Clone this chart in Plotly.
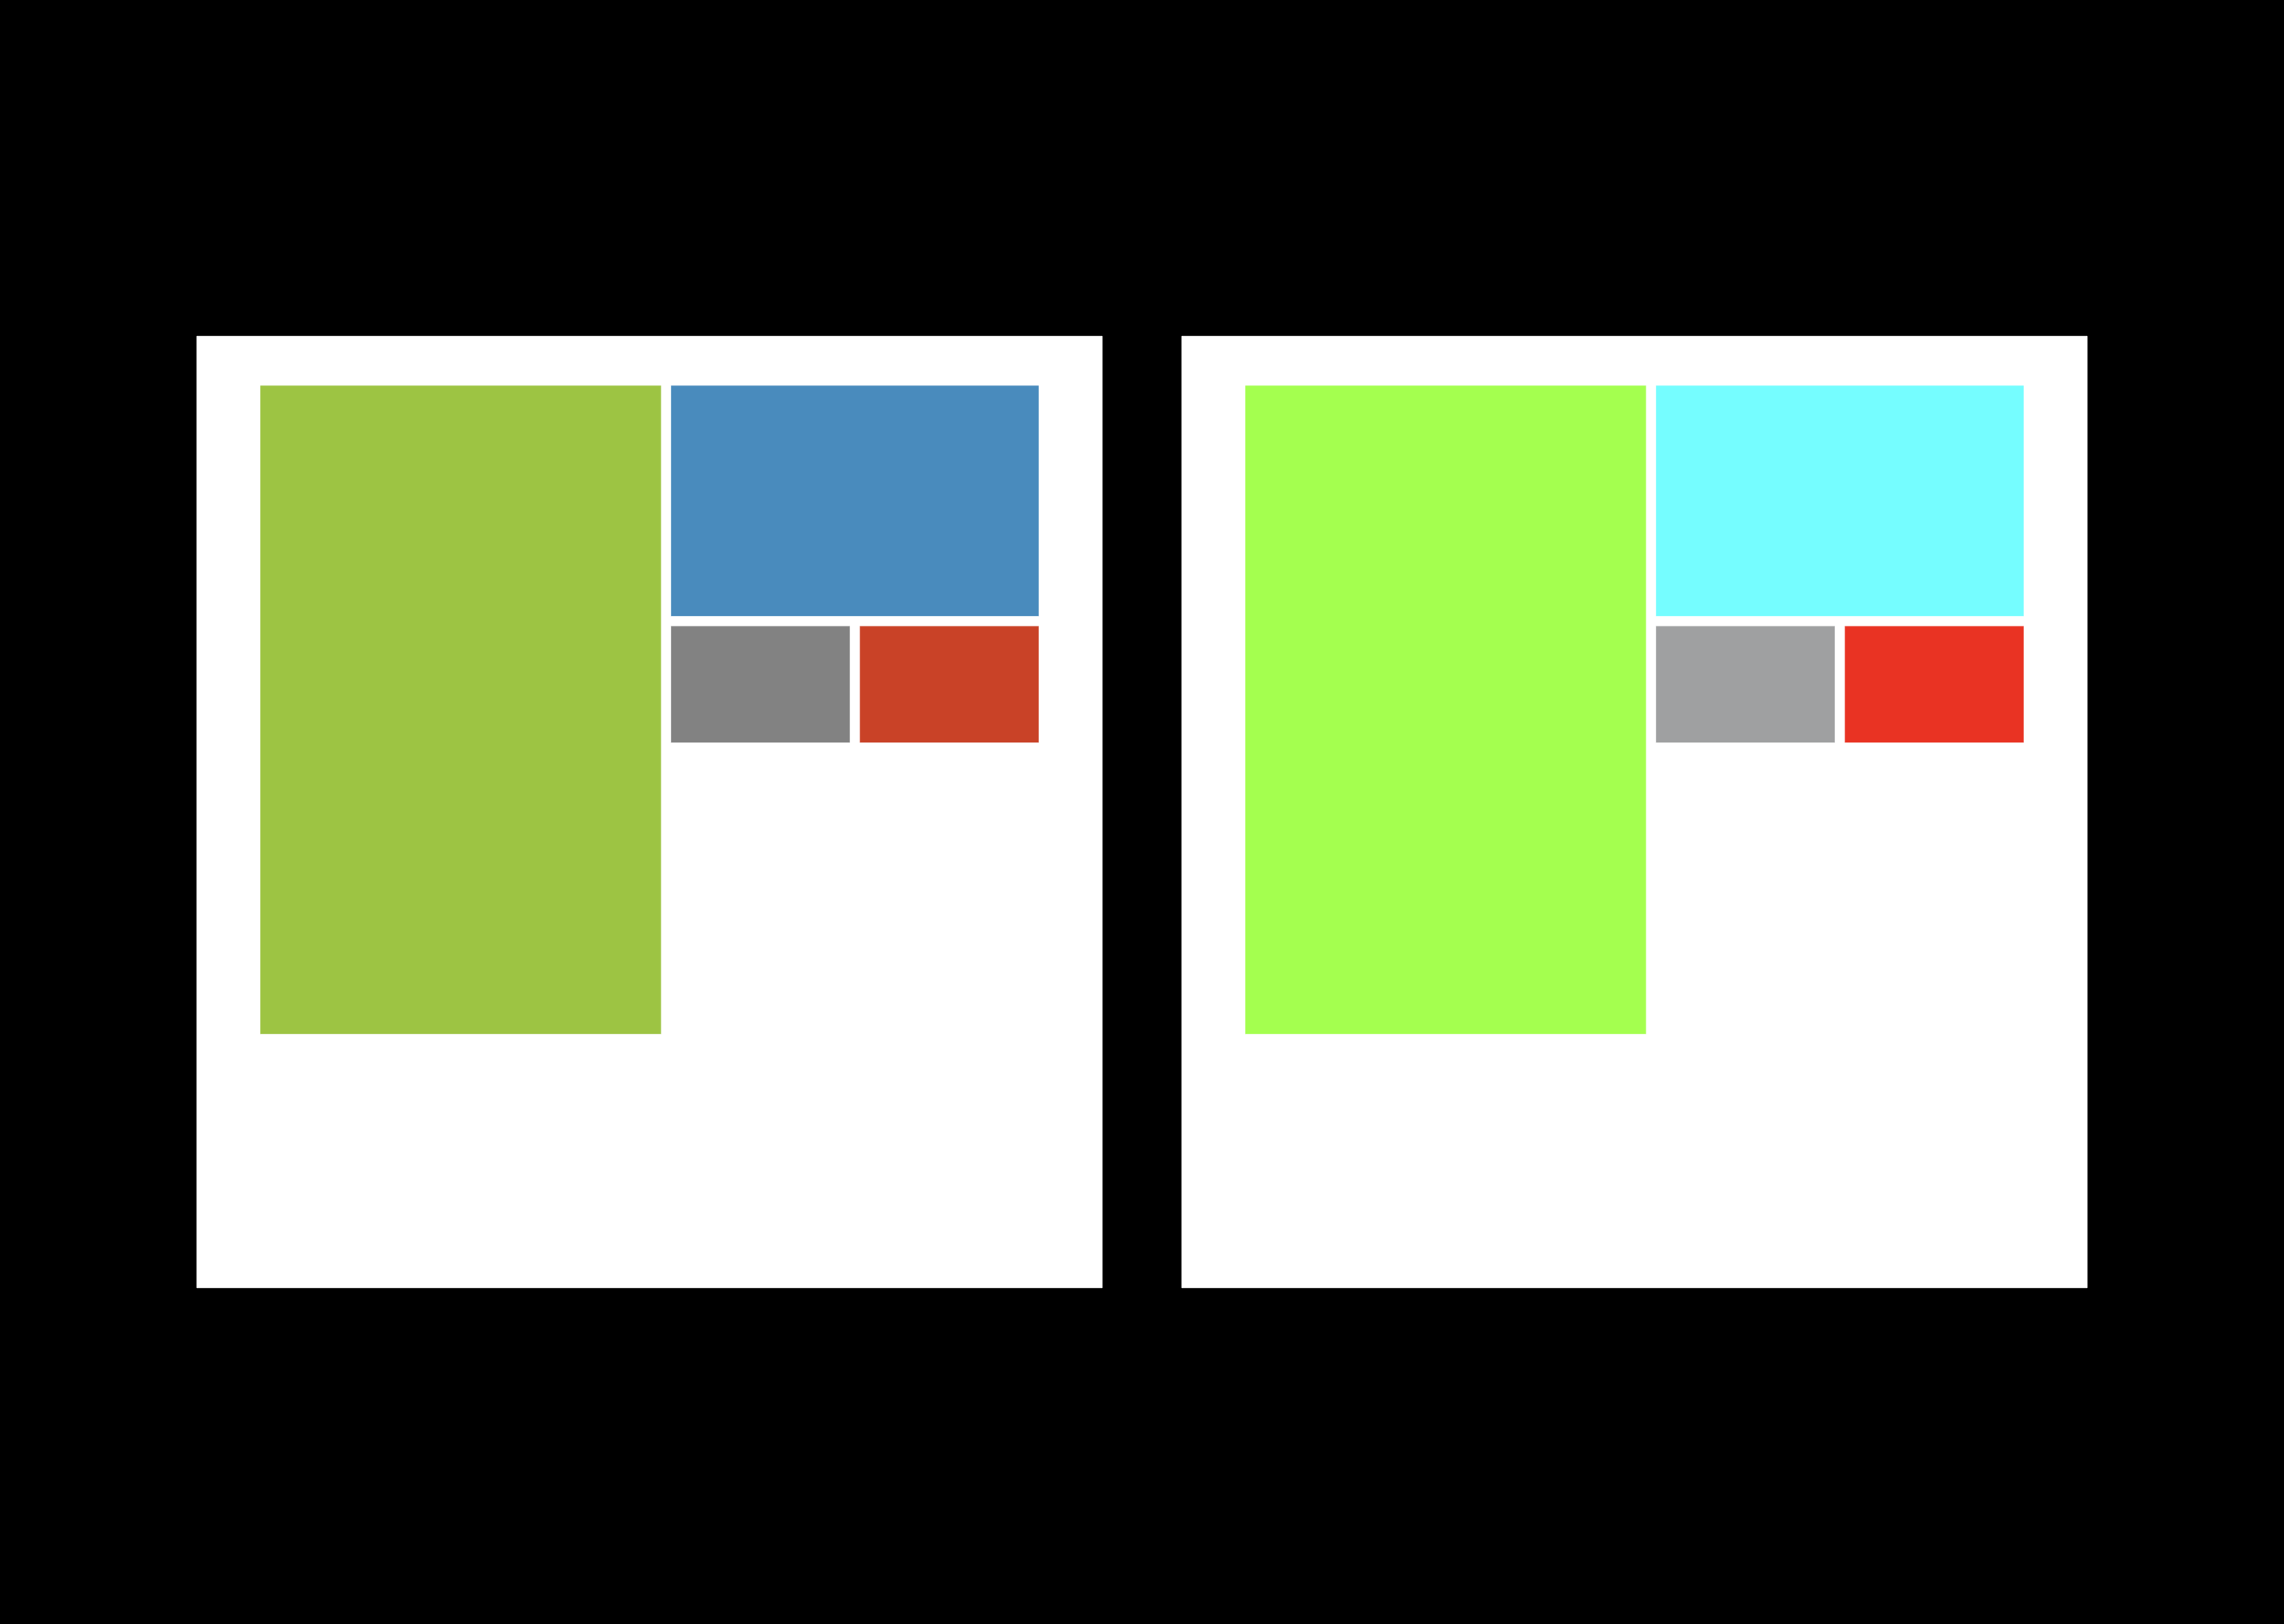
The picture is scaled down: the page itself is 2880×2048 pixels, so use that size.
import plotly.graph_objects as go

# Hierarchy (values are relative tile areas)
labels = ["Total", "Group", "Green", "Blue", "Gray", "Red"]
parents = ["", "Total", "Group", "Group", "Group", "Group"]
values = [1266, 1000, 521, 175, 46, 46]

colors_muted = ["#FFFFFF", "#FFFFFF", "#9DC443", "#498BBD", "#828282", "#C94227"]
colors_bright = ["#FFFFFF", "#FFFFFF", "#A4FF4F", "#75FDFF", "#9FA0A1", "#E93323"]

W, H = 2880, 2048
ML, MR, MT, MB = 248, 248, 424, 424
plot_w = W - ML - MR
panel_w = 1142
gap = plot_w - 2 * panel_w

hidden_font = dict(color="rgba(0,0,0,0)", size=1)

fig = go.Figure()
for i, cols in enumerate([colors_muted, colors_bright]):
    x0 = i * (panel_w + gap) / plot_w
    x1 = x0 + panel_w / plot_w
    fig.add_trace(go.Treemap(
        labels=labels,
        parents=parents,
        values=values,
        branchvalues="total",
        sort=True,
        marker=dict(
            colors=cols,
            line=dict(width=1, color="rgba(255,255,255,0.6)"),
            pad=dict(t=31, l=40, r=40, b=40),
        ),
        root=dict(color="#FFFFFF"),
        tiling=dict(pad=12, packing="squarify", squarifyratio=1),
        pathbar=dict(visible=False),
        textinfo="none",
        texttemplate=" ",
        textfont=hidden_font,
        insidetextfont=hidden_font,
        outsidetextfont=hidden_font,
        hoverinfo="label+value",
        domain=dict(x=[x0, min(x1, 1)], y=[0, 1]),
    ))

fig.update_layout(
    width=W, height=H,
    margin=dict(l=ML, r=MR, t=MT, b=MB),
    paper_bgcolor="#000000",
    plot_bgcolor="#000000",
    showlegend=False,
)

fig.write_html("out.html", config={"displayModeBar": False})
